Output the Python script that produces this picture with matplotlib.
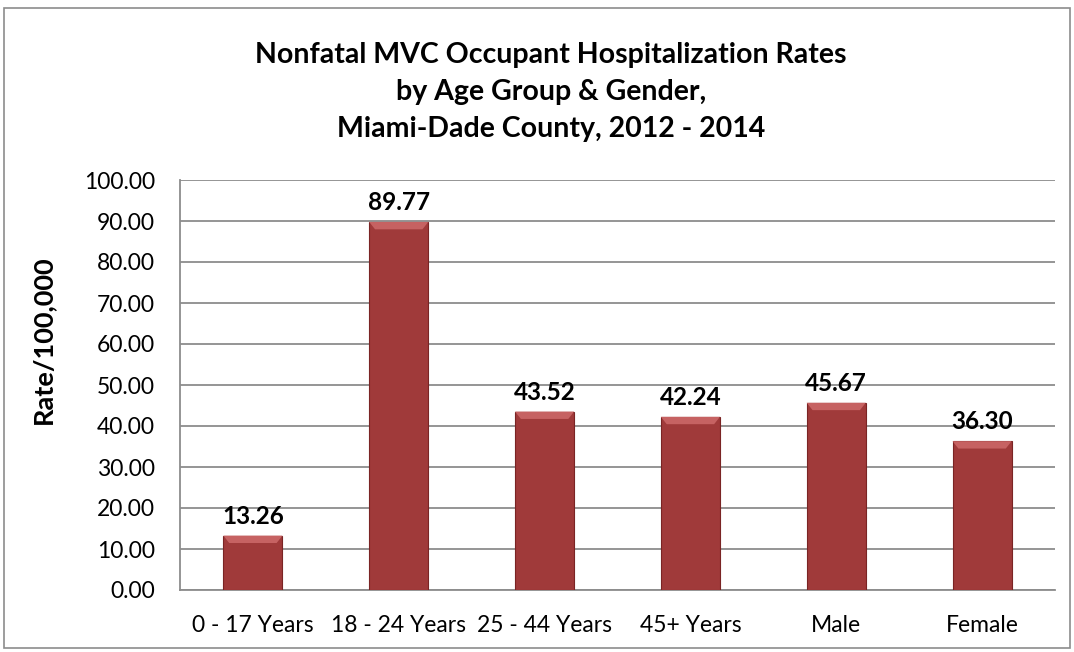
import matplotlib
matplotlib.use("Agg")
import matplotlib.pyplot as plt
from matplotlib.patches import Rectangle, Polygon

categories = ["0 - 17 Years", "18 - 24 Years", "25 - 44 Years", "45+ Years", "Male", "Female"]
values = [13.26, 89.77, 43.52, 42.24, 45.67, 36.30]
yticks = [0, 10, 20, 30, 40, 50, 60, 70, 80, 90, 100]

plt.rcParams['font.family'] = ['Lato', 'DejaVu Sans']

W, H = 1074, 652
fig = plt.figure(figsize=(W/100, H/100), dpi=100)
fig.patch.set_facecolor('white')
fig.add_artist(Rectangle((4/W, 4/H), 1066/W, 640/H, transform=fig.transFigure,
                         fill=False, edgecolor='#8c8c8c', linewidth=1.2))

# plot area: left 180, right 1055, top 180, bottom 590 (pixels from top)
ax = fig.add_axes([180/W, (H - 590)/H, 875/W, 410/H])
x = list(range(len(categories)))
bw = 0.405
ax.bar(x, values, width=bw, color='#A03A3A', edgecolor='#7a2424', linewidth=0.8, zorder=3)

for xi, v in zip(x, values):
    d = 1.8
    dx = 0.04
    top = Polygon([(xi - bw/2, v), (xi + bw/2, v), (xi + bw/2 - dx, v - d), (xi - bw/2 + dx, v - d)],
                  closed=True, facecolor='#C66262', edgecolor='none', zorder=4)
    ax.add_patch(top)
    ax.text(xi, v + 2.9, f"{v:.2f}", ha='center', va='baseline', fontsize=17.5,
            fontweight='bold', color='black', zorder=5)

ax.set_ylim(0, 100)
ax.set_xlim(-0.5, len(categories) - 0.5)
ax.set_yticks(yticks)
ax.set_yticklabels([f"{t:.2f}" for t in yticks], fontsize=16.5)
ax.set_xticks(x)
ax.set_xticklabels(categories, fontsize=16.5)
ax.tick_params(axis='y', length=0, pad=18)
ax.tick_params(axis='x', length=0, pad=18)
ax.yaxis.grid(True, color='#8c8c8c', linewidth=1.3, zorder=0)
ax.set_axisbelow(True)
for s in ['top', 'right']:
    ax.spines[s].set_visible(False)
ax.spines['left'].set_color('#8c8c8c')
ax.spines['bottom'].set_color('#8c8c8c')
ax.spines['left'].set_linewidth(1.3)
ax.spines['bottom'].set_linewidth(1.3)
ax.set_ylabel("Rate/100,000", fontsize=19.5, fontweight='bold', va='center')
ax.yaxis.set_label_coords((43 - 180)/875, (590 - 340)/410)

cx = 551 / W
fig.text(cx, 1 - 63/H, "Nonfatal MVC Occupant Hospitalization Rates", ha='center', va='baseline',
         fontsize=20.5, fontweight='bold')
fig.text(cx, 1 - 100/H, "by Age Group & Gender,", ha='center', va='baseline',
         fontsize=20.5, fontweight='bold')
fig.text(cx, 1 - 137/H, "Miami-Dade County, 2012 - 2014", ha='center', va='baseline',
         fontsize=20.5, fontweight='bold')

fig.savefig("out.png", dpi=100)
